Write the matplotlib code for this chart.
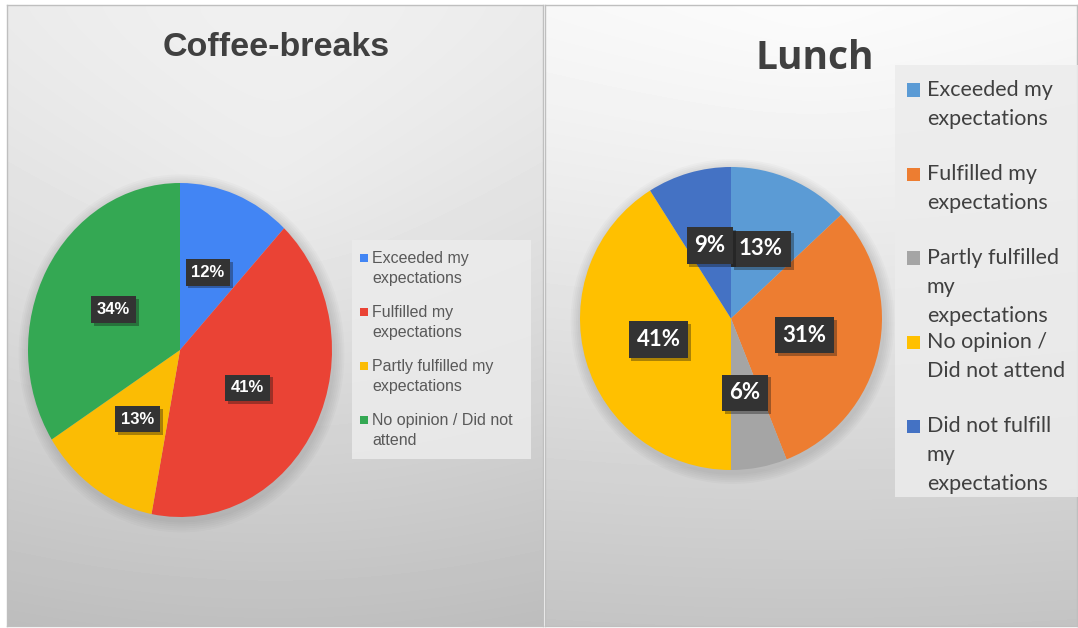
import numpy as np
import matplotlib.pyplot as plt
from matplotlib import patheffects
from matplotlib.patches import Rectangle, Ellipse

W, H = 1078, 628

# Coffee-breaks data
coffee_labels = ["Exceeded my\nexpectations", "Fulfilled my\nexpectations",
                 "Partly fulfilled my\nexpectations", "No opinion / Did not\nattend"]
coffee_values = [12, 41, 13, 34]
coffee_colors = ["#4285F4", "#EA4335", "#FBBC04", "#34A853"]

# Lunch data
lunch_labels = ["Exceeded my\nexpectations", "Fulfilled my\nexpectations",
                "Partly fulfilled\nmy\nexpectations", "No opinion /\nDid not attend",
                "Did not fulfill\nmy\nexpectations"]
lunch_values = [13, 31, 6, 41, 9]
lunch_colors = ["#5B9BD5", "#ED7D31", "#A5A5A5", "#FFC000", "#4472C4"]


def px_axes(fig, x0, y0, x1, y1, **kw):
    return fig.add_axes([x0 / W, 1 - y1 / H, (x1 - x0) / W, (y1 - y0) / H], **kw)


def panel_background(fig, x0, y0, x1, y1, cx, cy, top, bottom, k):
    ax = px_axes(fig, x0, y0, x1, y1)
    h, w = int(y1 - y0), int(x1 - x0)
    yy, xx = np.mgrid[0:h, 0:w]
    lin = top + (bottom - top) * (yy / h) ** 1.2
    rad = np.hypot((xx - cx) / w, (yy - cy) / h)
    img = np.clip(lin - k * rad, 0, 1)
    ax.imshow(img, cmap="gray", vmin=0, vmax=1, aspect="auto",
              extent=(0, w, h, 0), interpolation="bilinear")
    ax.set_xticks([])
    ax.set_yticks([])
    for s in ax.spines.values():
        s.set_color("#bfbfbf")
        s.set_linewidth(1)
    return ax


def draw_pie(fig, box, values, colors, font, size):
    ax = px_axes(fig, *box)
    # soft shadow round the pie
    for i in range(6):
        r = 1.0 + 0.012 * (i + 1)
        ax.add_patch(Ellipse((0.01, -0.02), 2 * r, 2 * r, color="black",
                             alpha=0.018, lw=0, clip_on=False, zorder=0))
    wedges, texts, autotexts = ax.pie(values, colors=colors, startangle=90,
                                      counterclock=False, autopct="%1.0f%%",
                                      pctdistance=0.5,
                                      wedgeprops=dict(linewidth=0))
    for t in autotexts:
        t.set_color("white")
        t.set_fontweight("bold")
        t.set_fontsize(size)
        t.set_family(font)
        t.set_bbox(dict(boxstyle="square,pad=0.35", fc="#333333", ec="none"))
        t.get_bbox_patch().set_path_effects([
            patheffects.SimplePatchShadow(offset=(2, -2), alpha=0.35),
            patheffects.Normal()])
    ax.set_xlim(-1, 1)
    ax.set_ylim(-1, 1)
    ax.set_aspect("auto")
    ax.axis("off")
    return ax


def draw_legend(fig, labels, colors, box, mx, msize, tx, y_first, step,
                line_h, font, size, color):
    x0, y0, x1, y1 = box
    fig.patches.append(Rectangle((x0 / W, 1 - y1 / H), (x1 - x0) / W, (y1 - y0) / H,
                                 transform=fig.transFigure, fc="#ececec",
                                 ec="none", alpha=0.85, zorder=3))
    for i, (lab, c) in enumerate(zip(labels, colors)):
        y = y_first + i * step
        fig.patches.append(Rectangle((mx / W, 1 - (y + msize / 2) / H),
                                     msize / W, msize / H,
                                     transform=fig.transFigure, fc=c,
                                     ec="none", zorder=4))
        for j, line in enumerate(lab.split("\n")):
            fig.text(tx / W, 1 - (y + j * line_h) / H, line, ha="left",
                     va="center", fontsize=size, family=font, color=color,
                     zorder=5)


fig = plt.figure(figsize=(W / 100, H / 100), dpi=100)

panel_background(fig, 7, 5, 543, 626, 268, 180, 0.96, 0.80, 0.07)
panel_background(fig, 545, 5, 1077, 626, 266, 0, 0.985, 0.80, 0.03)

draw_pie(fig, (28, 183, 332, 517), coffee_values, coffee_colors,
         "Liberation Sans", 12)
draw_pie(fig, (580, 167, 882, 470), lunch_values, lunch_colors, "Lato", 16)

fig.text(276 / W, 1 - 56 / H, "Coffee-breaks", ha="center", va="baseline",
         fontsize=24.5, fontweight="bold", family="Liberation Sans",
         color="#404040")
fig.text(815 / W, 1 - 69 / H, "Lunch", ha="center", va="baseline",
         fontsize=28, fontweight="bold", family="Open Sans", color="#404040")

draw_legend(fig, coffee_labels, coffee_colors, (352, 240, 531, 459),
            360, 8, 372, 258, 54, 20.5, "Liberation Sans", 11.5, "#595959")
draw_legend(fig, lunch_labels, lunch_colors, (895, 65, 1078, 497),
            907, 13, 927, 90, 84, 29, "Lato", 15.5, "#404040")

fig.savefig("out.png", dpi=100)
